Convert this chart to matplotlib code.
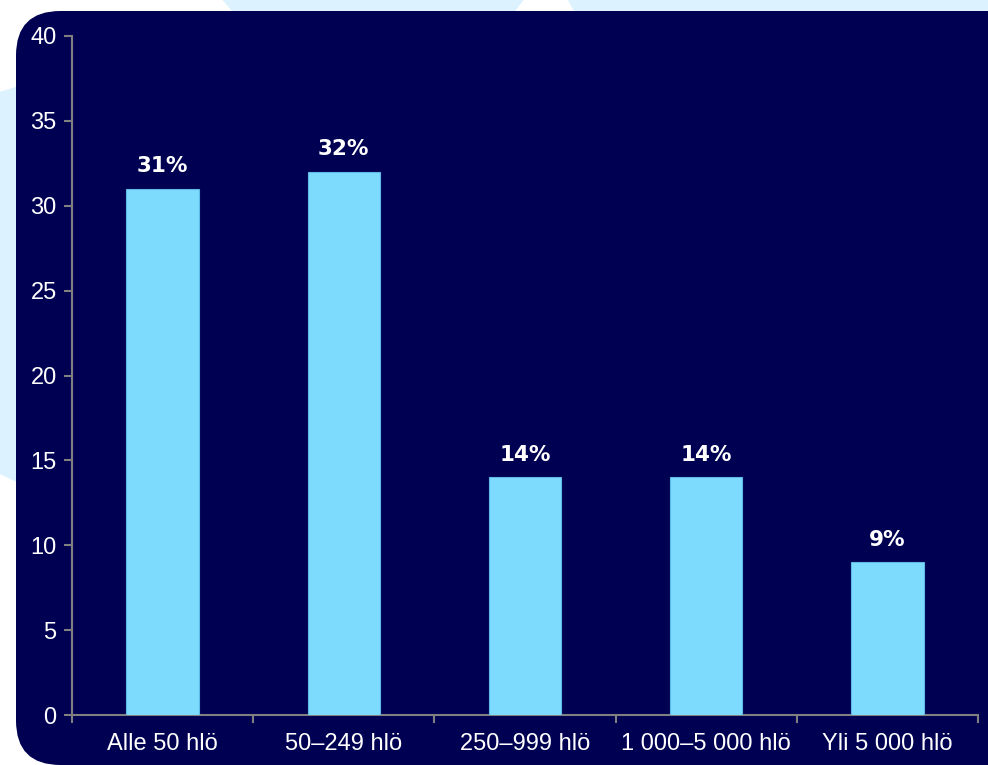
import matplotlib.pyplot as plt
from matplotlib.patches import FancyBboxPatch, Polygon
import numpy as np

## Data
categories = ["Alle 50 hlö", "50–249 hlö", "250–999 hlö", "1 000–5 000 hlö", "Yli 5 000 hlö"]
values = [31, 32, 14, 14, 9]
labels = ["31%", "32%", "14%", "14%", "9%"]

NAVY = "#000052"
BAR = "#7ddcfd"
LIGHT = "#dcf3ff"

fig = plt.figure(figsize=(9.88, 7.65), dpi=100)
fig.patch.set_facecolor("white")

## Decorative background shapes (figure coords)
shapes = [
    [(0.225, 1.0), (0.53, 1.0), (0.50, 0.95), (0.26, 0.95)],
    [(0.575, 1.0), (1.0, 1.0), (1.0, 0.95), (0.595, 0.95)],
    [(0.0, 0.88), (0.05, 0.90), (0.05, 0.35), (0.0, 0.38)],
]
for pts in shapes:
    fig.patches.append(Polygon(pts, closed=True, transform=fig.transFigure,
                               facecolor=LIGHT, edgecolor="none", zorder=-3))

## Dark rounded panel
panel = FancyBboxPatch((16 / 988, 0.0), 1.1, 1 - 11 / 765,
                       boxstyle="round,pad=0,rounding_size=0.045",
                       mutation_aspect=988 / 765,
                       transform=fig.transFigure, facecolor=NAVY,
                       edgecolor="none", zorder=-2)
fig.patches.append(panel)

ax = fig.add_axes([72 / 988, 1 - 715 / 765, (978 - 72) / 988, (715 - 36) / 765])
ax.set_facecolor(NAVY)
ax.patch.set_alpha(0)

x = np.arange(len(categories))
bars = ax.bar(x, values, width=0.4, color=BAR, edgecolor="#5fb8e6", linewidth=0.8, zorder=3)

for xi, v, lab in zip(x, values, labels):
    ax.annotate(lab, (xi, v), xytext=(0, 9), textcoords="offset points",
                ha="center", va="bottom", color="white", fontsize=15.5,
                fontweight="bold", family="DejaVu Sans")

ax.set_xlim(-0.5, len(categories) - 0.5)
ax.set_ylim(0, 40)
ax.set_yticks(range(0, 41, 5))
ax.set_xticks(x)
ax.set_xticklabels(categories)
ax.set_xticks(np.arange(-0.5, len(categories), 1), minor=True)

for s in ["top", "right"]:
    ax.spines[s].set_visible(False)
for s in ["left", "bottom"]:
    ax.spines[s].set_color("#808080")
    ax.spines[s].set_linewidth(1.5)

ax.tick_params(axis="x", which="major", length=0, pad=13, labelsize=17,
               labelcolor="white")
ax.tick_params(axis="x", which="minor", length=6, width=1.5, color="#808080")
ax.tick_params(axis="y", length=6, width=1.5, color="#808080", labelsize=17,
               labelcolor="white", pad=5)
for t in ax.get_xticklabels() + ax.get_yticklabels():
    t.set_family("Liberation Sans")

fig.savefig("out.png", dpi=100, facecolor=fig.get_facecolor())
